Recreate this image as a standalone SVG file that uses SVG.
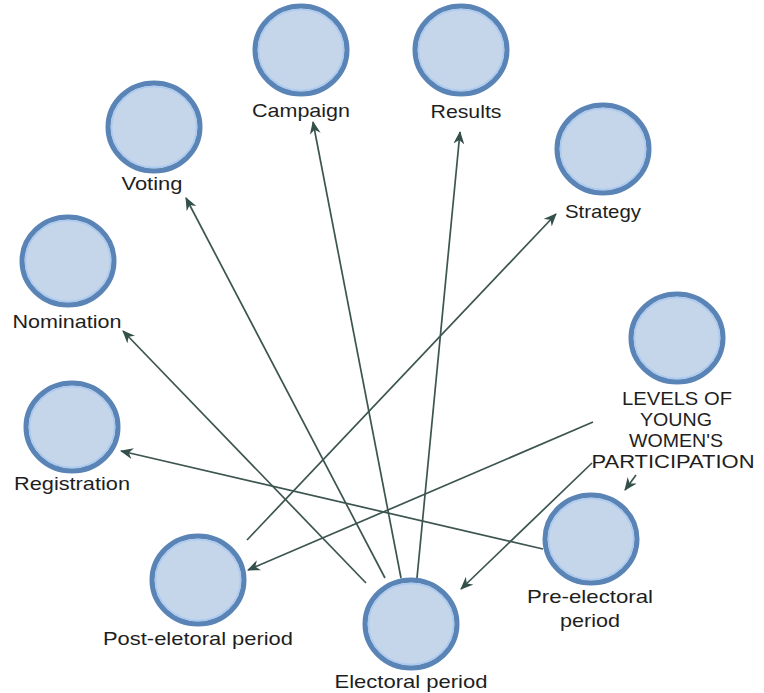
<svg xmlns="http://www.w3.org/2000/svg" width="764" height="693" viewBox="0 0 764 693">
  <defs>
    <marker id="arrow" viewBox="0 0 13 11" refX="12" refY="5.5" markerWidth="13" markerHeight="11" markerUnits="userSpaceOnUse" orient="auto">
      <path d="M0,0 L13,5.5 L0,11 L4,5.5 Z" fill="#34504a"/>
    </marker>
  </defs>
  <style>
    .node-outer { fill: #c5d5ea; stroke: #5a84b6; stroke-width: 5; }
    .node-inner { fill: none; stroke: #abcaf0; stroke-width: 1.5; }
    .label { font-family: "Liberation Sans", Arial, sans-serif; font-size: 19px; fill: #1e1e1e; text-anchor: middle; }
    .edge { fill: none; stroke: #3c5550; stroke-width: 1.7; marker-end: url(#arrow); }
  </style>
  <rect width="764" height="693" fill="#ffffff"/>

  <!-- connectors -->
  <g id="connectors">
    <line class="edge" x1="247" y1="540" x2="556" y2="214"/>
    <line class="edge" x1="593" y1="422" x2="248" y2="570"/>
    <line class="edge" x1="592" y1="463" x2="461" y2="589"/>
    <line class="edge" x1="636" y1="475" x2="625" y2="490"/>
    <line class="edge" x1="543" y1="549" x2="121" y2="451"/>
    <line class="edge" x1="366" y1="583" x2="123" y2="331"/>
    <line class="edge" x1="385" y1="578" x2="186" y2="198"/>
    <line class="edge" x1="401" y1="578" x2="313" y2="122"/>
    <line class="edge" x1="417" y1="578" x2="460" y2="132"/>
  </g>

  <g id="campaign">
    <ellipse class="node-outer" cx="301" cy="50" rx="46" ry="44"/>
    <ellipse class="node-inner" cx="301" cy="50" rx="42.5" ry="40.5"/>
    <text class="label" x="301" y="117" textLength="98" lengthAdjust="spacingAndGlyphs">Campaign</text>
  </g>
  <g id="results">
    <ellipse class="node-outer" cx="461" cy="50" rx="46" ry="44"/>
    <ellipse class="node-inner" cx="461" cy="50" rx="42.5" ry="40.5"/>
    <text class="label" x="466" y="118" textLength="71" lengthAdjust="spacingAndGlyphs">Results</text>
  </g>
  <g id="strategy">
    <ellipse class="node-outer" cx="603" cy="149" rx="46" ry="44"/>
    <ellipse class="node-inner" cx="603" cy="149" rx="42.5" ry="40.5"/>
    <text class="label" x="603" y="218" textLength="76" lengthAdjust="spacingAndGlyphs">Strategy</text>
  </g>
  <g id="voting">
    <ellipse class="node-outer" cx="154" cy="127" rx="46" ry="44"/>
    <ellipse class="node-inner" cx="154" cy="127" rx="42.5" ry="40.5"/>
    <text class="label" x="152" y="190" textLength="61" lengthAdjust="spacingAndGlyphs">Voting</text>
  </g>
  <g id="nomination">
    <ellipse class="node-outer" cx="68" cy="261" rx="46" ry="44"/>
    <ellipse class="node-inner" cx="68" cy="261" rx="42.5" ry="40.5"/>
    <text class="label" x="67" y="328" textLength="109" lengthAdjust="spacingAndGlyphs">Nomination</text>
  </g>
  <g id="registration">
    <ellipse class="node-outer" cx="72" cy="427" rx="46" ry="44"/>
    <ellipse class="node-inner" cx="72" cy="427" rx="42.5" ry="40.5"/>
    <text class="label" x="72" y="490" textLength="116" lengthAdjust="spacingAndGlyphs">Registration</text>
  </g>
  <g id="levels">
    <ellipse class="node-outer" cx="677" cy="338" rx="46" ry="44"/>
    <ellipse class="node-inner" cx="677" cy="338" rx="42.5" ry="40.5"/>
    <text class="label" x="677" y="405" textLength="110" lengthAdjust="spacingAndGlyphs">LEVELS OF</text>
    <text class="label" x="676" y="426" textLength="72" lengthAdjust="spacingAndGlyphs">YOUNG</text>
    <text class="label" x="676" y="447" textLength="94" lengthAdjust="spacingAndGlyphs">WOMEN'S</text>
    <text class="label" x="673" y="468" textLength="163" lengthAdjust="spacingAndGlyphs">PARTICIPATION</text>
  </g>
  <g id="pre-electoral">
    <ellipse class="node-outer" cx="591" cy="539" rx="46" ry="44"/>
    <ellipse class="node-inner" cx="591" cy="539" rx="42.5" ry="40.5"/>
    <text class="label" x="590" y="603" textLength="126" lengthAdjust="spacingAndGlyphs">Pre-electoral</text>
    <text class="label" x="590" y="627" textLength="60" lengthAdjust="spacingAndGlyphs">period</text>
  </g>
  <g id="electoral">
    <ellipse class="node-outer" cx="411" cy="624" rx="46" ry="44"/>
    <ellipse class="node-inner" cx="411" cy="624" rx="42.5" ry="40.5"/>
    <text class="label" x="411" y="688" textLength="153" lengthAdjust="spacingAndGlyphs">Electoral period</text>
  </g>
  <g id="post-electoral">
    <ellipse class="node-outer" cx="198" cy="580" rx="46" ry="44"/>
    <ellipse class="node-inner" cx="198" cy="580" rx="42.5" ry="40.5"/>
    <text class="label" x="198" y="645" textLength="190" lengthAdjust="spacingAndGlyphs">Post-eletoral period</text>
  </g>
</svg>
